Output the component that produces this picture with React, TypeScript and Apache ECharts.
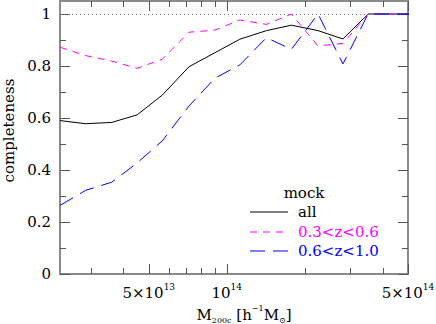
import React, { useEffect, useRef } from "react";
import * as echarts from "echarts";

// log10 of M200c bin centres [h^-1 Msun]
const logMass = [13.357, 13.456, 13.556, 13.654, 13.751, 13.854, 13.954, 14.05, 14.153, 14.249, 14.352, 14.448, 14.545, 14.645, 14.745];
const allValues = [0.59, 0.578, 0.583, 0.612, 0.688, 0.797, 0.851, 0.903, 0.936, 0.957, 0.936, 0.904, 1.0, 1.0, 1.0];
const midzValues = [0.872, 0.84, 0.819, 0.791, 0.826, 0.93, 0.938, 0.977, 0.96, 1.0, 0.877, 0.887, 1.0, 1.0, 1.0];
const highzValues = [0.264, 0.322, 0.353, 0.427, 0.512, 0.646, 0.753, 0.804, 0.909, 0.864, 1.0, 0.808, 1.0, 1.0, 1.0];

const seriesNames = ["all", "0.3<z<0.6", "0.6<z<1.0"];
const legendTitle = "mock";

const xMajorMasses = [5e13, 1e14, 5e14];
const xMinorMasses = [3e13, 4e13, 6e13, 7e13, 8e13, 9e13, 2e14, 3e14, 4e14];
const yMajorTicks = [0, 0.2, 0.4, 0.6, 0.8, 1];
const yMinorTicks = [0.1, 0.3, 0.5, 0.7, 0.9];

const X_MIN = 13.3565;
const X_MAX = Math.log10(5e14);
const Y_MIN = 0;
const Y_MAX = 1.05;

const FONT = "DejaVu Serif";
const AXIS_COLOR = "#8a8a8a";
const TICK_COLOR = "#555555";
const COLORS = ["#000000", "#ff00ff", "#0000ff"];
const DASHES: (number[] | "solid")[] = ["solid", [7, 6], [15, 8]];

function fmtX(v: number): string {
  const exp = Math.floor(v + 1e-9);
  const mant = Math.round(Math.pow(10, v - exp));
  return mant === 1 ? `{b|10}{s|${exp}}` : `{b|${mant}×10}{s|${exp}}`;
}

function fmtY(v: number): string {
  if (Math.abs(v) < 1e-9) return "0";
  if (Math.abs(v - 1) < 1e-9) return "1";
  return v.toFixed(1);
}

export default function App() {
  const ref = useRef<HTMLDivElement>(null);
  useEffect(() => {
    if (!ref.current) return;
    const chart = echarts.init(ref.current, null, { renderer: "svg" });
    const xMajor = xMajorMasses.map((m) => Math.log10(m));
    const xMinor = xMinorMasses.map((m) => Math.log10(m));

    const xBase = {
      type: "value",
      min: X_MIN,
      max: X_MAX,
      splitLine: { show: false },
      gridIndex: 0,
    };
    const yBase = {
      type: "value",
      min: Y_MIN,
      max: Y_MAX,
      splitLine: { show: false },
      gridIndex: 0,
    };
    const lineOn = { show: true, onZero: false, lineStyle: { color: AXIS_COLOR, width: 2 } };
    const lineOff = { show: false, onZero: false };
    const tick = (vals: number[], len: number) => ({
      show: true,
      inside: true,
      length: len,
      customValues: vals,
      lineStyle: { color: TICK_COLOR, width: 1 },
    });

    const dataFor = (vals: number[]) => logMass.map((x, i) => [x, vals[i]]);
    const valueSets = [allValues, midzValues, highzValues];

    const legendRows = [212, 232, 251];
    const graphic: any[] = [
      {
        type: "text",
        x: 304,
        y: 193,
        style: { text: legendTitle, fontFamily: FONT, fontSize: 15, fill: "#000", align: "center", verticalAlign: "middle" },
      },
    ];
    seriesNames.forEach((name, i) => {
      graphic.push({
        type: "line",
        shape: { x1: 250, y1: legendRows[i], x2: 288, y2: legendRows[i] },
        style: { stroke: COLORS[i], lineWidth: 1, lineDash: DASHES[i] === "solid" ? null : DASHES[i] },
      });
      graphic.push({
        type: "text",
        x: 298,
        y: legendRows[i],
        style: { text: name, fontFamily: FONT, fontSize: 15, fill: COLORS[i], align: "left", verticalAlign: "middle" },
      });
    });

    chart.setOption({
      animation: false,
      backgroundColor: "#ffffff",
      grid: { left: 60, right: 28, top: 1, bottom: 50, containLabel: false, outerBoundsMode: "none" },
      xAxis: [
        {
          ...xBase,
          position: "bottom",
          axisLine: lineOn,
          axisTick: tick(xMajor, 10),
          axisLabel: {
            show: true,
            customValues: xMajor,
            formatter: fmtX,
            margin: 8,
            rich: {
              b: { fontFamily: FONT, fontSize: 15, color: "#000", lineHeight: 18, verticalAlign: "bottom" },
              s: { fontFamily: FONT, fontSize: 9, color: "#000", lineHeight: 12, verticalAlign: "top" },
            },
          },
          name: "{m|M}{sub|200c}{m| [h}{sup|−1}{m|M}{sub|⊙}{m|]}",
          nameLocation: "middle",
          nameGap: 24,
          nameTextStyle: {
            padding: [0, 0, 0, 20],
            rich: {
              m: { fontFamily: FONT, fontSize: 15, color: "#000", lineHeight: 20, verticalAlign: "middle" },
              sub: { fontFamily: FONT, fontSize: 8, color: "#000", lineHeight: 8, verticalAlign: "bottom" },
              sup: { fontFamily: FONT, fontSize: 8, color: "#000", lineHeight: 8, verticalAlign: "top" },
            },
          },
        },
        { ...xBase, position: "bottom", axisLine: lineOff, axisTick: tick(xMinor, 6), axisLabel: { show: false } },
        { ...xBase, position: "top", axisLine: lineOn, axisTick: tick(xMajor, 10), axisLabel: { show: false } },
        { ...xBase, position: "top", axisLine: lineOff, axisTick: tick(xMinor, 6), axisLabel: { show: false } },
      ],
      yAxis: [
        {
          ...yBase,
          position: "left",
          axisLine: lineOn,
          axisTick: tick(yMajorTicks, 10),
          axisLabel: {
            show: true,
            customValues: yMajorTicks,
            formatter: fmtY,
            margin: 9,
            fontFamily: FONT,
            fontSize: 15,
            color: "#000",
          },
          name: "completeness",
          nameLocation: "middle",
          nameRotate: 90,
          nameGap: 43,
          nameTextStyle: { fontFamily: FONT, fontSize: 15, color: "#000", padding: [0, 0, 0, 14] },
        },
        { ...yBase, position: "left", axisLine: lineOff, axisTick: tick(yMinorTicks, 6), axisLabel: { show: false } },
        { ...yBase, position: "right", axisLine: lineOn, axisTick: tick(yMajorTicks, 10), axisLabel: { show: false } },
        { ...yBase, position: "right", axisLine: lineOff, axisTick: tick(yMinorTicks, 6), axisLabel: { show: false } },
      ],
      series: seriesNames.map((name, i) => ({
        name,
        type: "line",
        xAxisIndex: 0,
        yAxisIndex: 0,
        data: dataFor(valueSets[i]),
        symbol: "none",
        clip: true,
        z: 3 + i,
        lineStyle: { color: COLORS[i], width: 1, type: DASHES[i] },
        markLine:
          i === 0
            ? {
                silent: true,
                symbol: "none",
                label: { show: false },
                lineStyle: { type: [1, 3], color: "#777777", width: 1 },
                data: [{ yAxis: 1 }],
              }
            : undefined,
      })),
      graphic,
    });
    return () => chart.dispose();
  }, []);
  return <div ref={ref} style={{ position: "fixed", left: 0, top: 0, width: 436, height: 324 }} />;
}
